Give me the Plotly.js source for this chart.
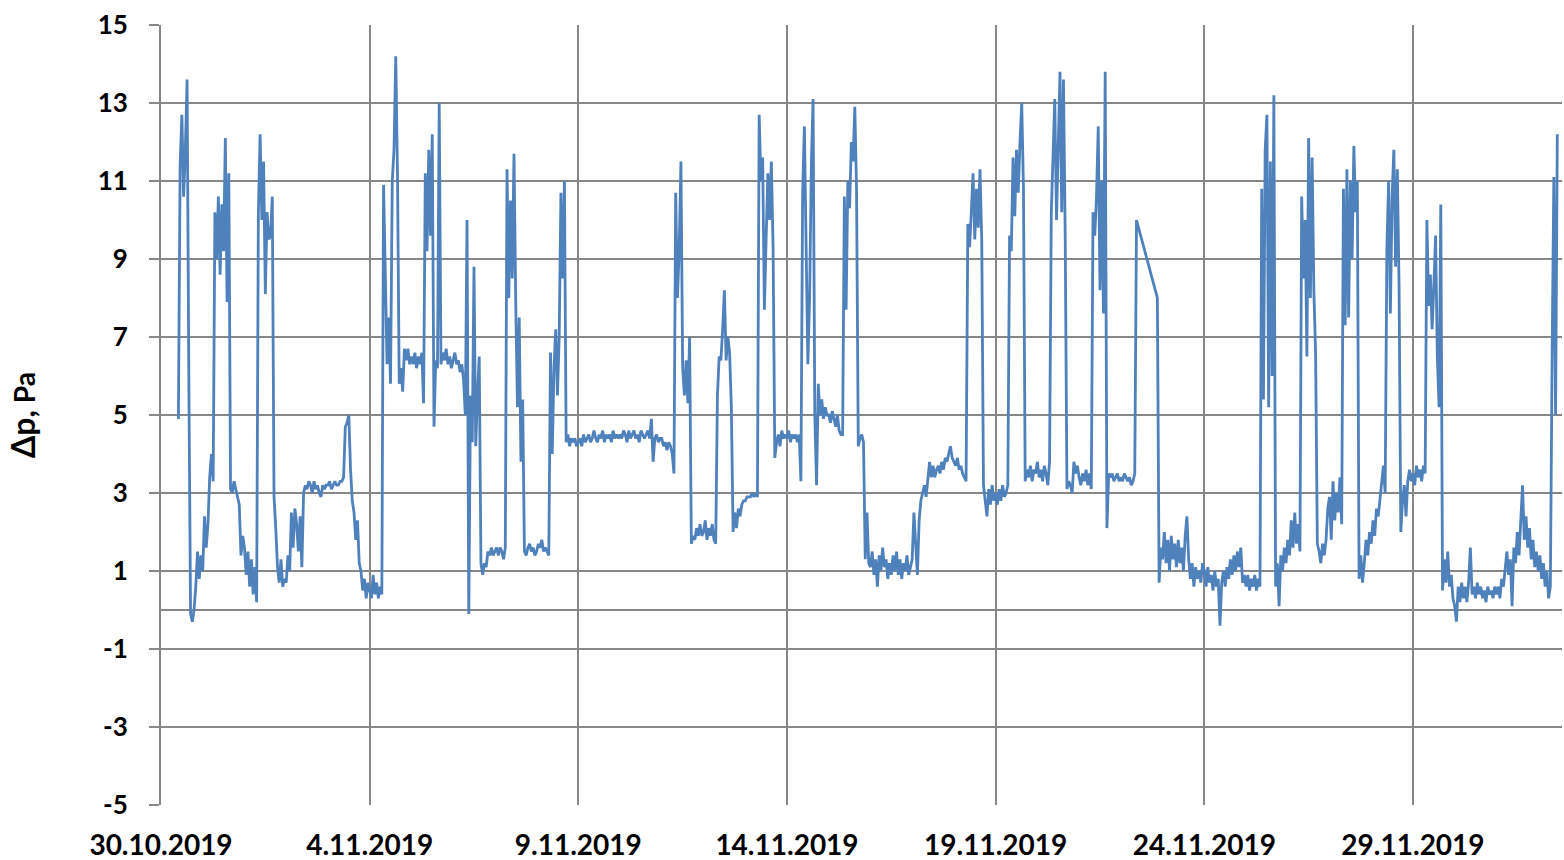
<!DOCTYPE html>
<html>
<head>
<meta charset="utf-8">
<script src="https://cdn.plot.ly/plotly-3.0.1.min.js"></script>
<style>
  html, body { margin: 0; padding: 0; background: #ffffff; }
  #chart { width: 1564px; height: 860px; }
</style>
</head>
<body>
<div id="chart"></div>
<script>
// Hourly readings of the pressure difference (Pa), one array per day (hours 0..23)
const startDate = '2019-10-30';
const d1030 = [null,null,null,null,null,null,null,null,null,null, 4.9, 11.4, 12.7, 10.6, 11.8, 13.6, 6.0, -0.1, -0.3, 0.0, 0.6, 1.5, 0.8, 1.4];
const d1031 = [1.0, 2.4, 1.6, 2.2, 3.4, 4.0, 3.3, 10.2, 9.0, 10.6, 8.6, 10.4, 9.2, 12.1, 7.9, 11.2, 3.1, 3.0, 3.3, 3.1, 2.9, 2.7, 1.4, 1.9];
const d1101 = [1.6, 0.9, 1.5, 0.6, 1.3, 0.4, 1.1, 0.2, 10.2, 12.2, 10.0, 11.5, 8.1, 10.2, 9.5, 9.6, 10.6, 2.9, 2.1, 1.1, 0.7, 1.3, 0.6, 0.8];
const d1102 = [0.7, 1.4, 1.0, 2.5, 1.6, 2.6, 2.2, 1.5, 2.4, 1.1, 3.0, 3.2, 3.1, 3.3, 3.2, 3.0, 3.3, 3.1, 3.2, 3.0, 2.9, 3.2, 3.1, 3.2];
const d1103 = [3.2, 3.3, 3.1, 3.2, 3.3, 3.2, 3.2, 3.3, 3.3, 3.4, 4.7, 4.8, 5.0, 3.6, 2.8, 2.5, 1.8, 2.3, 1.2, 1.0, 0.5, 0.8, 0.3, 0.7];
const d1104 = [0.5, 0.3, 0.9, 0.4, 0.7, 0.3, 0.6, 0.4, 10.9, 8.0, 6.3, 7.5, 5.8, 11.0, 11.8, 14.2, 11.2, 5.8, 6.2, 5.6, 6.7, 6.4, 6.7, 6.3];
const d1105 = [6.5, 6.3, 6.6, 6.2, 6.5, 6.3, 6.6, 5.3, 11.2, 9.2, 11.8, 9.6, 12.2, 4.7, 6.4, 6.2, 13.0, 6.3, 6.6, 6.4, 6.7, 6.3, 6.5, 6.2];
const d1106 = [6.4, 6.6, 6.3, 6.4, 6.1, 6.3, 5.9, 5.0, 10.0, -0.1, 5.5, 4.3, 8.8, 4.2, 5.5, 6.5, 1.2, 0.9, 1.2, 1.1, 1.5, 1.4, 1.6, 1.4];
const d1107 = [1.5, 1.6, 1.4, 1.6, 1.5, 1.3, 1.6, 11.3, 8.0, 10.5, 8.5, 11.7, 7.9, 5.2, 7.5, 3.8, 5.4, 1.5, 1.4, 1.6, 1.7, 1.5, 1.6, 1.4];
const d1108 = [1.5, 1.7, 1.6, 1.8, 1.5, 1.6, 1.5, 1.4, 6.6, 4.0, 6.2, 7.2, 5.5, 7.0, 10.7, 8.5, 11.0, 4.3, 4.5, 4.2, 4.4, 4.3, 4.4, 4.2];
const d1109 = [4.3, 4.4, 4.2, 4.5, 4.3, 4.4, 4.5, 4.3, 4.4, 4.6, 4.4, 4.3, 4.5, 4.4, 4.6, 4.3, 4.5, 4.4, 4.5, 4.3, 4.6, 4.4, 4.5, 4.4];
const d1110 = [4.5, 4.4, 4.6, 4.5, 4.3, 4.6, 4.4, 4.5, 4.6, 4.4, 4.5, 4.3, 4.6, 4.5, 4.4, 4.5, 4.6, 4.4, 4.9, 3.8, 4.4, 4.5, 4.3, 4.4];
const d1111 = [4.4, 4.2, 4.3, 4.1, 4.3, 4.2, 4.0, 3.5, 10.7, 8.0, 9.2, 11.5, 6.2, 5.5, 6.4, 5.3, 7.0, 1.7, 1.9, 1.8, 2.1, 1.9, 2.2, 1.9];
const d1112 = [2.0, 2.3, 1.8, 2.1, 1.9, 2.2, 1.8, 1.7, 5.5, 6.5, 6.4, 7.2, 8.2, 6.4, 7.0, 6.6, 5.2, 2.0, 2.5, 2.1, 2.6, 2.4, 2.7, 2.8];
const d1113 = [2.8, 2.9, 2.9, 2.9, 3.0, 2.9, 3.0, 2.9, 12.7, 11.0, 11.6, 7.7, 9.5, 11.2, 10.0, 11.5, 9.3, 3.9, 4.3, 4.5, 4.2, 4.6, 4.4, 4.5];
const d1114 = [4.4, 4.6, 4.3, 4.5, 4.4, 4.5, 4.3, 4.5, 3.3, 10.7, 12.4, 9.0, 6.3, 8.0, 11.4, 13.1, 5.0, 3.2, 5.8, 5.0, 5.4, 4.9, 5.2, 5.0];
const d1115 = [5.0, 4.8, 5.1, 4.9, 4.7, 5.0, 4.6, 4.5, 4.5, 10.6, 7.7, 11.0, 10.3, 12.0, 11.5, 12.9, 10.8, 4.2, 4.4, 4.5, 4.3, 1.3, 2.5, 1.2];
const d1116 = [1.1, 1.5, 0.9, 1.3, 0.6, 1.4, 1.0, 1.6, 1.1, 1.3, 0.8, 1.2, 0.9, 1.4, 1.0, 1.5, 0.9, 1.3, 0.8, 1.2, 1.0, 1.4, 0.9, 1.1];
const d1117 = [1.3, 2.5, 1.5, 0.9, 2.3, 2.8, 3.0, 3.2, 2.9, 3.3, 3.8, 3.4, 3.7, 3.4, 3.6, 3.7, 3.5, 3.8, 3.6, 3.9, 3.8, 4.0, 4.2, 3.9];
const d1118 = [3.8, 3.7, 3.9, 3.6, 3.7, 3.5, 3.4, 3.3, 9.9, 9.3, 10.2, 11.2, 9.5, 10.8, 9.8, 11.3, 9.5, 3.2, 2.8, 2.4, 3.1, 2.7, 3.2, 2.8];
const d1119 = [3.0, 2.7, 3.1, 2.8, 3.2, 2.9, 3.0, 3.2, 9.6, 9.2, 11.6, 10.1, 11.8, 10.7, 12.0, 13.0, 10.8, 3.3, 3.6, 3.4, 3.7, 3.3, 3.6, 3.5];
const d1120 = [3.8, 3.4, 3.6, 3.3, 3.7, 3.5, 3.2, 3.8, 10.2, 11.8, 13.1, 10.0, 12.1, 13.8, 10.2, 13.6, 9.6, 3.1, 3.3, 3.2, 3.0, 3.8, 3.5, 3.7];
const d1121 = [3.4, 3.2, 3.5, 3.3, 3.6, 3.2, 3.5, 3.1, 10.2, 9.6, 10.6, 12.4, 8.2, 11.0, 7.6, 13.8, 2.1, 3.5, 3.4, 3.5, 3.3, 3.4, 3.5, 3.3];
const d1122 = [3.4, 3.3, 3.5, 3.4, 3.3, 3.4, 3.2, 3.3, 3.5, 10.0, null, null, null, null, null, null, null, null, null, null, null, 8.0, 0.7, 1.6];
const d1123 = [1.3, 2.0, 1.2, 1.8, 1.0, 1.9, 1.3, 1.7, 1.1, 1.8, 1.2, 1.6, 1.0, 1.9, 2.4, 1.3, 0.8, 1.2, 0.6, 1.1, 0.8, 1.0, 0.7, 1.2];
const d1124 = [1.0, 0.6, 1.1, 0.7, 0.9, 0.5, 1.0, 0.6, 0.8, -0.4, 0.7, 1.0, 0.6, 1.1, 0.8, 1.3, 0.9, 1.4, 1.0, 1.5, 1.1, 1.6, 0.7, 0.9];
const d1125 = [0.6, 0.9, 0.5, 0.8, 0.6, 0.9, 0.5, 0.8, 0.6, 10.8, 5.4, 11.8, 12.7, 5.2, 11.5, 6.0, 13.2, 0.6, 1.2, 0.1, 1.4, 1.0, 1.6, 1.2];
const d1126 = [1.8, 1.4, 2.3, 1.6, 2.5, 1.7, 2.2, 1.5, 10.6, 8.5, 10.0, 6.5, 12.1, 8.0, 11.6, 8.2, 6.6, 1.7, 1.5, 1.2, 1.7, 1.4, 1.8, 2.6];
const d1127 = [2.9, 1.8, 3.3, 2.3, 3.0, 2.5, 3.4, 2.2, 10.8, 7.3, 11.3, 7.5, 11.0, 9.0, 11.9, 10.2, 11.0, 0.8, 1.4, 0.7, 1.2, 1.8, 1.4, 2.0];
const d1128 = [1.7, 2.3, 1.9, 2.6, 2.4, 2.9, 3.2, 3.7, 3.0, 9.3, 11.0, 7.6, 10.6, 11.8, 8.8, 11.3, 8.3, 2.0, 2.8, 3.2, 2.4, 3.3, 3.6, 3.3];
const d1129 = [3.5, 3.2, 3.7, 3.4, 3.6, 3.3, 3.7, 3.5, 10.0, 7.8, 8.6, 7.2, 8.3, 9.6, 6.5, 5.2, 10.4, 0.5, 1.3, 0.7, 1.5, 0.6, 0.9, 0.3];
const d1130 = [0.1, -0.3, 0.6, 0.2, 0.7, 0.3, 0.6, 0.2, 0.7, 1.6, 0.4, 0.6, 0.3, 0.7, 0.4, 0.6, 0.3, 0.5, 0.2, 0.6, 0.4, 0.5, 0.3, 0.6];
const d1201 = [0.4, 0.6, 0.3, 0.8, 0.6, 1.0, 1.5, 0.9, 1.3, 0.1, 1.6, 1.2, 2.0, 1.4, 2.3, 3.2, 1.8, 2.4, 1.6, 2.1, 1.3, 1.8, 1.1, 1.5];
const d1202 = [1.0, 1.4, 0.8, 1.2, 0.6, 1.0, 0.3, 0.6, 6.4, 11.1, 5.0, 12.2];

const days = [d1030, d1031, d1101, d1102, d1103, d1104, d1105, d1106, d1107, d1108,
              d1109, d1110, d1111, d1112, d1113, d1114, d1115, d1116, d1117, d1118,
              d1119, d1120, d1121, d1122, d1123, d1124, d1125, d1126, d1127, d1128,
              d1129, d1130, d1201, d1202];

// Axis ticks
const tickDates  = ['2019-10-30', '2019-11-04', '2019-11-09', '2019-11-14', '2019-11-19', '2019-11-24', '2019-11-29'];
const tickLabels = ['30.10.2019', '4.11.2019', '9.11.2019', '14.11.2019', '19.11.2019', '24.11.2019', '29.11.2019'];
const yTickVals  = [-5, -3, -1, 1, 3, 5, 7, 9, 11, 13, 15];
const yTickText  = ['-5', '-3', '-1', '1', '3', '5', '7', '9', '11', '13', '15'];
const xRange = ['2019-10-30 00:00', '2019-12-02 13:42'];
const yRange = [-5, 15];

function pad(n) { return (n < 10 ? '0' : '') + n; }
const t0 = Date.parse(startDate + 'T00:00:00Z');
const xs = [], ys = [];
days.forEach((arr, di) => {
  arr.forEach((v, h) => {
    const d = new Date(t0 + (di * 24 + h) * 3600000);
    xs.push(d.getUTCFullYear() + '-' + pad(d.getUTCMonth() + 1) + '-' + pad(d.getUTCDate()) + ' ' + pad(d.getUTCHours()) + ':00');
    ys.push(v);
  });
});

const gridColor = '#878787';
const fontFam = 'Lato, "Noto Sans", sans-serif';

const trace = {
  type: 'scatter',
  mode: 'lines',
  x: xs,
  y: ys,
  connectgaps: true,
  line: { color: '#4F81BD', width: 2.8 },
  hoverinfo: 'x+y'
};

const layout = {
  width: 1564,
  height: 860,
  margin: { l: 161, r: 2, t: 25, b: 55 },
  paper_bgcolor: '#ffffff',
  plot_bgcolor: '#ffffff',
  showlegend: false,
  font: { family: fontFam, color: '#000000' },
  xaxis: {
    type: 'date',
    range: xRange,
    tickmode: 'array',
    tickvals: tickDates,
    ticktext: tickLabels,
    showgrid: true,
    gridcolor: gridColor,
    gridwidth: 2,
    ticks: '',
    showline: false,
    zeroline: false,
    tickfont: { family: fontFam, size: 28, weight: 700, color: '#000000' },
    ticklabelstandoff: 21
  },
  yaxis: {
    range: yRange,
    tickmode: 'array',
    tickvals: yTickVals,
    ticktext: yTickText,
    showgrid: true,
    gridcolor: gridColor,
    gridwidth: 2,
    zeroline: true,
    zerolinecolor: gridColor,
    zerolinewidth: 2,
    showline: true,
    linecolor: gridColor,
    linewidth: 2,
    ticks: 'outside',
    ticklen: 10,
    tickwidth: 2,
    tickcolor: gridColor,
    tickfont: { family: fontFam, size: 26, weight: 700, color: '#000000' },
    ticklabelstandoff: 16,
    title: {
      text: '<span style="font-size:32px">Δp,</span> Pa',
      font: { family: fontFam, size: 28, weight: 700, color: '#000000' },
      standoff: 54
    }
  }
};

Plotly.newPlot('chart', [trace], layout, { displayModeBar: false, staticPlot: true });
</script>
</body>
</html>
